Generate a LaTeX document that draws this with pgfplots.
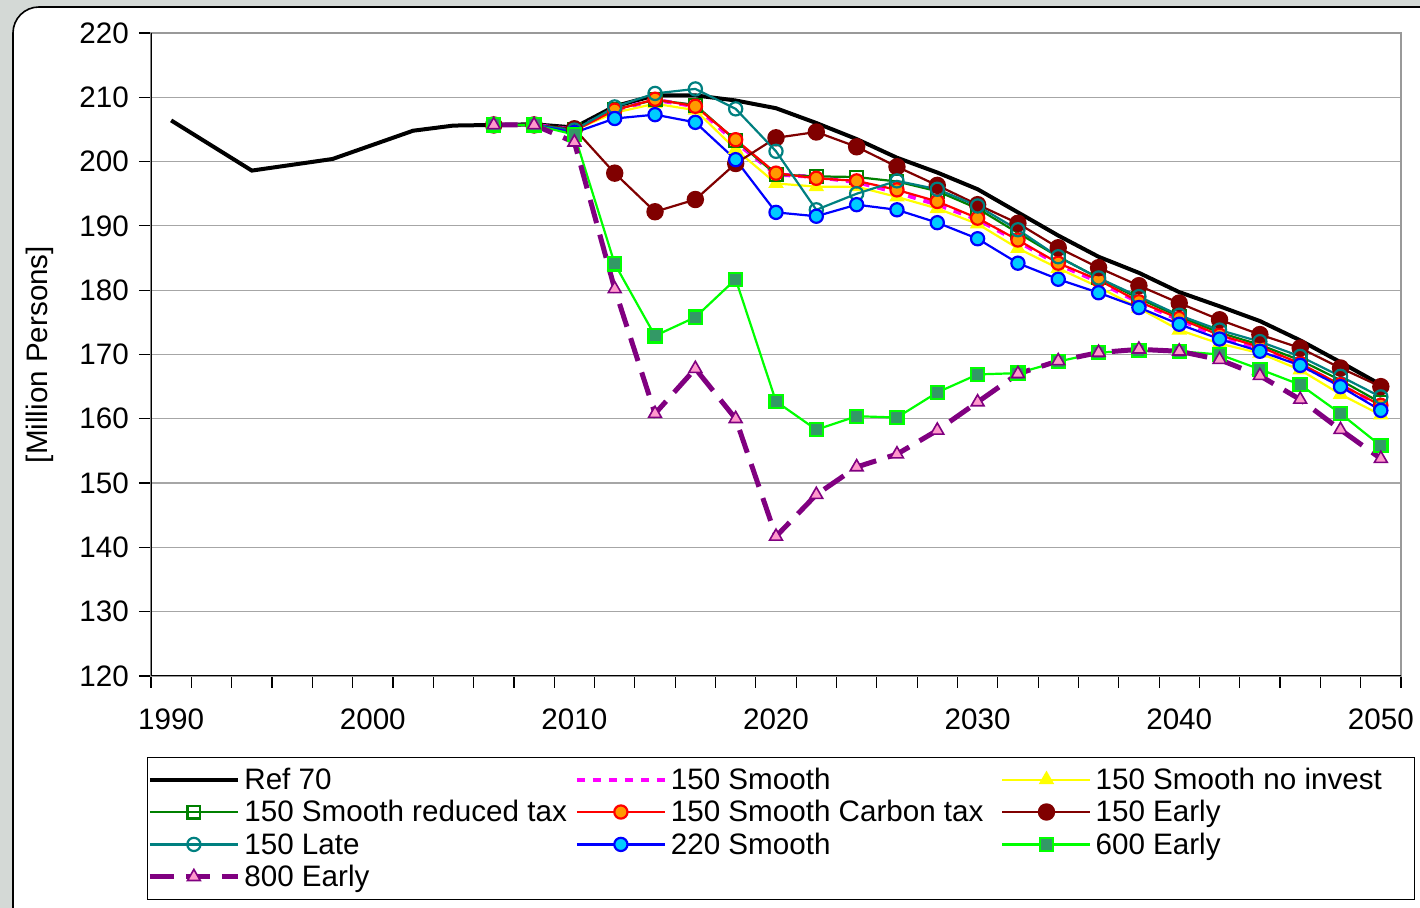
\documentclass[border=0pt]{standalone}
\usepackage{fontspec}
\setmainfont{Liberation Sans}
\usepackage{pgfplots}
\pgfplotsset{compat=1.18}
\definecolor{bggray}{RGB}{212,217,214}
\definecolor{cgreen}{RGB}{0,128,0}
\definecolor{corange}{RGB}{255,153,0}
\definecolor{cdred}{RGB}{128,0,0}
\definecolor{cteal}{RGB}{0,128,128}
\definecolor{ccyan}{RGB}{0,204,255}
\definecolor{clime}{RGB}{0,255,0}
\definecolor{csea}{RGB}{51,153,102}
\definecolor{cpurple}{RGB}{128,0,128}
\definecolor{cpink}{RGB}{255,153,204}
\definecolor{cmag}{RGB}{255,0,255}
\definecolor{cyel}{RGB}{255,255,0}
\newcommand{\ff}{\fontsize{14.8}{17.8}\selectfont}
\newcommand{\legtxt}[1]{\makebox[163.25pt][l]{#1}}
\newcommand{\legtxtc}[1]{\makebox[157.5pt][l]{#1}}
\begin{document}
\ff
\begin{tikzpicture}
\useasboundingbox (0,0) rectangle (710pt,454pt);
\clip (0,0) rectangle (710pt,454pt);
\fill[bggray] (0,0) rectangle (710pt,454pt);
\draw[fill=white, line width=0.8pt, rounded corners=13pt] (6.5pt,-30pt) rectangle (740pt,450.5pt);
\begin{axis}[
  width=625pt, height=321.5pt, scale only axis,
  at={(75.5pt,116pt)}, anchor=south west,
  xmin=1989, xmax=2051, ymin=120, ymax=220,
  ytick={120,130,...,220},
  xtick={1989,1991,...,2051}, xticklabels={},
  extra x ticks={1990,2000,...,2050},
  extra x tick labels={1990,2000,2010,2020,2030,2040,2050},
  extra x tick style={major tick length=0pt, tick label style={yshift=-11.5pt}},
  tick align=outside, tick pos=left,
  major tick length=6pt,
  tick style={black, line width=0.6pt},
  ymajorgrids, grid style={gray!70, line width=0.6pt},
  axis line style={gray!80, line width=0.8pt},
  /pgf/number format/assume math mode=true,
  tick label style={font=\ff},
  ylabel={[Million Persons]},
  every axis y label/.style={at={(axis description cs:-0.0888,0.5)}, rotate=90, anchor=center, font=\ff},
  legend columns=3,
  legend cell align=left,
  legend style={at={(axis description cs:-0.0032,-0.126)}, anchor=north west,
    draw=black, fill=white, inner xsep=0pt, inner ysep=3pt,
    row sep=0pt, column sep=0pt, font=\ff,
    nodes={inner xsep=2pt, inner ysep=0pt, text height=13pt, text depth=3.2pt}},
  legend image code/.code={\draw[mark repeat=2,mark phase=2,#1] plot coordinates {(0pt,0pt) (22pt,0pt) (44pt,0pt)};},
]
% Ref 70
\addplot[black, line width=2pt, no marks] coordinates {
(1990,206.4) (1992,202.5) (1994,198.6) (1996,199.5) (1998,200.4) (2000,202.6) (2002,204.8) (2004,205.6)
(2006,205.7) (2008,205.8) (2010,205.3) (2012,208.6) (2014,210.3) (2016,210.3) (2018,209.5) (2020,208.3)
(2022,206.0) (2024,203.5) (2026,200.6) (2028,198.3) (2030,195.7) (2032,192.1) (2034,188.5) (2036,185.2)
(2038,182.7) (2040,179.7) (2042,177.5) (2044,175.2) (2046,172.2) (2048,168.8) (2050,165.3)};
\addlegendentry{\legtxt{Ref 70}}
% 150 Smooth
\addplot[cmag, line width=2pt, dash pattern=on 4pt off 4pt, no marks] coordinates {
(2006,205.7) (2008,205.7) (2010,205.0) (2012,208.0) (2014,209.6) (2016,208.6) (2018,203.0) (2020,198.0)
(2022,197.6) (2024,196.8) (2026,195.2) (2028,193.3) (2030,191.0) (2032,187.6) (2034,184.0) (2036,181.3)
(2038,178.1) (2040,175.4) (2042,172.8) (2044,171.0) (2046,168.4) (2048,165.2) (2050,162.0)};
\addlegendentry{\legtxt{150 Smooth}}
% 150 Smooth no invest
\addplot[cyel, line width=1.1pt, mark=triangle*, mark size=3.4pt, mark options={fill=cyel, draw=cyel, solid}] coordinates {
(2006,205.7) (2008,205.7) (2010,204.9) (2012,207.6) (2014,209.0) (2016,208.0) (2018,201.9) (2020,196.6)
(2022,196.1) (2024,196.1) (2026,194.5) (2028,192.7) (2030,190.3) (2032,186.5) (2034,183.4) (2036,180.5)
(2038,177.2) (2040,173.8) (2042,171.7) (2044,170.2) (2046,167.6) (2048,163.8) (2050,160.6)};
\addlegendentry{\legtxtc{150 Smooth no invest}}
% 150 Smooth reduced tax
\addplot[cgreen, line width=1.1pt, mark=square, mark size=3.2pt, mark options={solid}] coordinates {
(2006,205.7) (2008,205.7) (2010,205.0) (2012,208.1) (2014,209.6) (2016,208.8) (2018,203.3) (2020,198.0)
(2022,197.7) (2024,197.6) (2026,196.9) (2028,195.4) (2030,192.7) (2032,188.9) (2034,185.2) (2036,181.9)
(2038,178.7) (2040,175.9) (2042,173.4) (2044,171.5) (2046,169.1) (2048,166.0) (2050,162.5)};
\addlegendentry{\legtxt{150 Smooth reduced tax}}
% 150 Smooth Carbon tax
\addplot[red, line width=1.1pt, mark=*, mark size=3.3pt, mark options={fill=corange, draw=red, solid}] coordinates {
(2006,205.7) (2008,205.7) (2010,204.8) (2012,208.0) (2014,209.7) (2016,208.6) (2018,203.4) (2020,198.2)
(2022,197.4) (2024,197.0) (2026,195.6) (2028,193.8) (2030,191.2) (2032,187.8) (2034,184.2) (2036,181.6)
(2038,178.2) (2040,175.6) (2042,173.0) (2044,171.2) (2046,168.6) (2048,165.3) (2050,162.1)};
\addlegendentry{\legtxt{150 Smooth Carbon tax}}
% 150 Early
\addplot[cdred, line width=1.1pt, mark=*, mark size=3.8pt, mark options={fill=cdred, draw=cdred, solid}] coordinates {
(2006,205.7) (2008,205.7) (2010,205.1) (2012,198.2) (2014,192.2) (2016,194.1) (2018,199.7) (2020,203.7)
(2022,204.6) (2024,202.3) (2026,199.2) (2028,196.3) (2030,193.3) (2032,190.4) (2034,186.6) (2036,183.5)
(2038,180.7) (2040,178.0) (2042,175.4) (2044,173.1) (2046,171.0) (2048,167.9) (2050,165.0)};
\addlegendentry{\legtxtc{150 Early}}
% 150 Late
\addplot[cteal, line width=1.1pt, mark=o, mark size=3.3pt, mark options={solid}] coordinates {
(2006,205.7) (2008,205.7) (2010,204.9) (2012,208.5) (2014,210.6) (2016,211.3) (2018,208.2) (2020,201.6)
(2022,192.5) (2024,195.0) (2026,197.0) (2028,195.7) (2030,193.1) (2032,189.4) (2034,185.2) (2036,181.9)
(2038,179.0) (2040,176.1) (2042,173.8) (2044,172.0) (2046,169.7) (2048,166.6) (2050,163.4)};
\addlegendentry{\legtxt{150 Late}}
% 220 Smooth
\addplot[blue, line width=1.1pt, mark=*, mark size=3.3pt, mark options={fill=ccyan, draw=blue, solid}] coordinates {
(2006,205.7) (2008,205.7) (2010,204.5) (2012,206.7) (2014,207.3) (2016,206.1) (2018,200.3) (2020,192.1)
(2022,191.5) (2024,193.3) (2026,192.5) (2028,190.5) (2030,188.0) (2032,184.2) (2034,181.7) (2036,179.6)
(2038,177.3) (2040,174.7) (2042,172.4) (2044,170.5) (2046,168.3) (2048,165.0) (2050,161.3)};
\addlegendentry{\legtxt{220 Smooth}}
% 600 Early
\addplot[clime, line width=1.1pt, mark=square*, mark size=3.3pt, mark options={fill=csea, draw=clime, solid}] coordinates {
(2006,205.7) (2008,205.7) (2010,204.2) (2012,184.1) (2014,172.9) (2016,175.8) (2018,181.7) (2020,162.7)
(2022,158.3) (2024,160.4) (2026,160.2) (2028,164.1) (2030,166.9) (2032,167.1) (2034,168.9) (2036,170.3)
(2038,170.6) (2040,170.5) (2042,170.0) (2044,167.7) (2046,165.3) (2048,160.8) (2050,155.8)};
\addlegendentry{\legtxtc{600 Early}}
% 800 Early
\addplot[cpurple, line width=2.5pt, dash pattern=on 12pt off 6pt, mark=triangle*, mark size=3.7pt, mark options={fill=cpink, draw=cpurple, solid, line width=0.8pt}] coordinates {
(2006,205.7) (2008,205.7) (2010,203.0) (2012,180.2) (2014,160.8) (2016,167.8) (2018,160.0) (2020,141.7)
(2022,148.2) (2024,152.5) (2026,154.5) (2028,158.2) (2030,162.6) (2032,167.0) (2034,169.0) (2036,170.3)
(2038,170.8) (2040,170.5) (2042,169.2) (2044,166.7) (2046,163.0) (2048,158.3) (2050,153.8)};
\addlegendentry{\legtxt{800 Early}}
\draw[black, line width=1pt] (rel axis cs:0,1) -- (rel axis cs:0,0) -- (rel axis cs:1,0);
\end{axis}
\end{tikzpicture}
\end{document}
